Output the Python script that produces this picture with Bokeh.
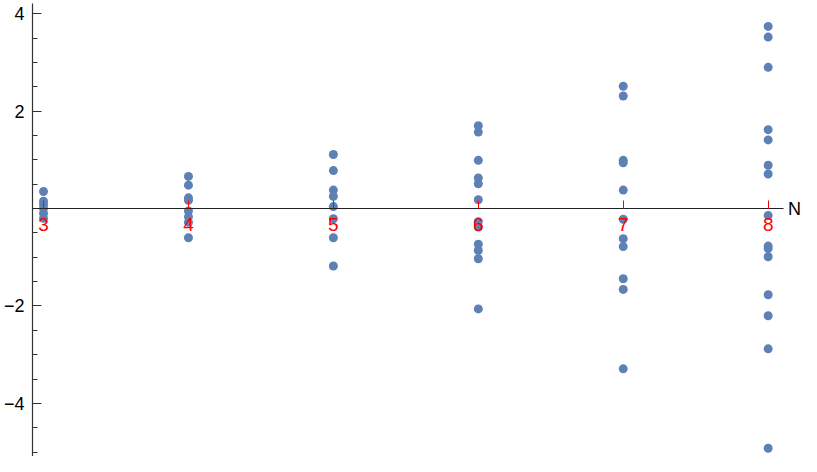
from bokeh.plotting import figure
from bokeh.models import FixedTicker, Label, Range1d
from bokeh.embed import file_html
from bokeh.resources import INLINE

# values, one list per N
n_values = [3, 4, 5, 6, 7, 8]
vals_3 = [0.35, 0.15, 0.08, 0.0, -0.10, -0.20]
vals_4 = [0.66, 0.48, 0.22, 0.17, -0.05, -0.17, -0.28, -0.60]
vals_5 = [1.11, 0.78, 0.38, 0.25, 0.04, -0.21, -0.60, -1.18]
vals_6 = [1.70, 1.57, 0.99, 0.63, 0.51, 0.18, -0.27, -0.38, -0.73, -0.86, -1.03, -2.06]
vals_7 = [2.51, 2.31, 0.99, 0.94, 0.38, -0.22, -0.62, -0.78, -1.44, -1.66, -3.29]
vals_8 = [3.74, 3.52, 2.90, 1.62, 1.41, 0.89, 0.71, -0.14, -0.77, -0.82, -0.99,
          -1.77, -2.20, -2.88, -4.92]
y_major = [-4, -2, 2, 4]
y_minor = [-5, -4.5, -3.5, -3, -2.5, -1.5, -1, -0.5, 0.5, 1, 1.5, 2.5, 3, 3.5]

columns = [vals_3, vals_4, vals_5, vals_6, vals_7, vals_8]
xs, ys = [], []
for n, vals in zip(n_values, columns):
    xs += [n] * len(vals)
    ys += vals

x_start, x_axis_end, x_end = 2.924, 8.103, 8.23
y_start, y_end = -5.09, 4.21

p = figure(width=801, height=456, output_backend="svg", toolbar_location=None,
           x_range=Range1d(x_start, x_end), y_range=Range1d(y_start, y_end),
           min_border_left=30, min_border_right=0, min_border_top=3, min_border_bottom=0)
p.outline_line_color = None
p.xgrid.visible = False
p.ygrid.visible = False
p.background_fill_color = "white"
p.border_fill_color = "white"

p.scatter(xs, ys, size=9, color="#5E81B5", line_color=None)

font = "Liberation Sans"

xa = p.xaxis[0]
xa.fixed_location = 0
xa.bounds = (x_start, x_axis_end)
xa.ticker = FixedTicker(ticks=n_values)
xa.axis_line_color = "#222222"
xa.axis_line_width = 1.2
xa.major_tick_in = 8
xa.major_tick_out = 0
xa.major_tick_line_color = "#FF0000"
xa.minor_tick_line_color = None
xa.major_label_text_color = "#FF0000"
xa.major_label_text_font = font
xa.major_label_text_font_size = "19px"
xa.major_label_standoff = 9

ya = p.yaxis[0]
ya.ticker = FixedTicker(ticks=y_major, minor_ticks=y_minor)
ya.major_label_overrides = {t: (("\u2212" + str(-t)) if t < 0 else str(t)) for t in y_major}
ya.axis_line_color = "#333333"
ya.axis_line_width = 1.2
ya.major_tick_in = 9
ya.major_tick_out = 0
ya.minor_tick_in = 5
ya.minor_tick_out = 0
ya.major_tick_line_color = "#333333"
ya.minor_tick_line_color = "#333333"
ya.major_label_text_color = "black"
ya.major_label_text_font = font
ya.major_label_text_font_size = "18px"
ya.major_label_standoff = 8

p.add_layout(Label(x=x_axis_end, y=0, x_offset=5, text="N", text_baseline="middle",
                   text_align="left", text_font=font, text_font_size="18px",
                   text_color="black"))

open("out.html", "w").write(file_html(p, INLINE))
